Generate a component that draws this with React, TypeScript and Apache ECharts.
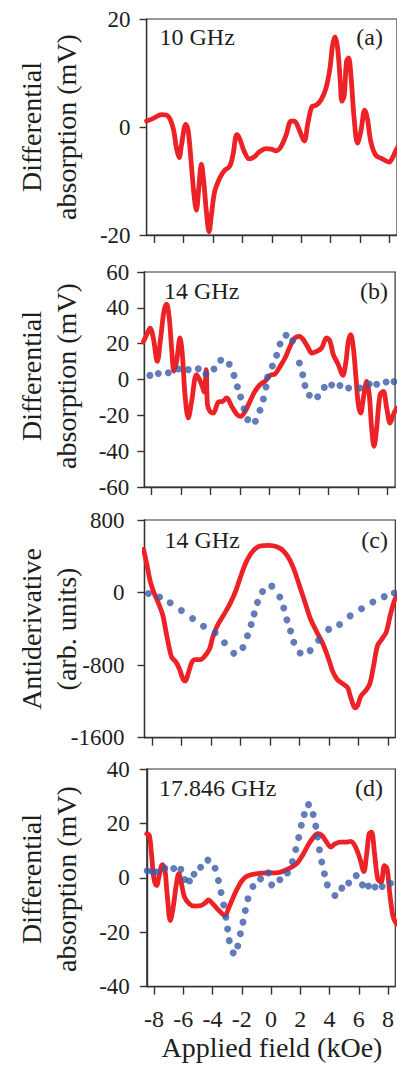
import React, { useEffect, useRef } from "react";
import * as echarts from "echarts";

const FIELD_TICKS = [-8, -6, -4, -2, 0, 2, 4, 6, 8];

// (a) 10 GHz, differential absorption (mV) vs applied field (kOe)
const redA: number[][] = [
  [-8.5, 1.1], [-8.05, 1.6], [-7.48, 2.3], [-7.03, 2.0], [-6.69, -0.3], [-6.47, -4.0], [-6.29, -5.7],
  [-6.13, -3.3], [-5.84, 0.5], [-5.68, -0.6], [-5.46, -7.0], [-5.28, -12.6], [-5.12, -15.4], [-4.96, -11.4],
  [-4.78, -6.9], [-4.62, -10.1], [-4.44, -15.7], [-4.26, -19.4], [-4.1, -16.3], [-3.88, -12.0], [-3.54, -9.5],
  [-3.2, -8.0], [-2.86, -7.3], [-2.64, -5.2], [-2.37, -1.4], [-2.19, -2.1], [-1.86, -4.6], [-1.52, -5.9],
  [-1.18, -5.5], [-0.84, -4.6], [-0.39, -4.0], [-0.04, -4.1], [0.3, -4.4], [0.63, -3.6], [0.97, -1.5],
  [1.31, 1.1], [1.53, 1.1], [1.83, -0.3], [2.21, -2.6], [2.43, 0.4], [2.73, 3.8], [3.0, 4.0], [3.34, 5.0],
  [3.68, 7.2], [3.95, 10.9], [4.13, 15.2], [4.29, 16.7], [4.47, 14.6], [4.65, 8.4], [4.76, 4.8], [4.92, 5.9],
  [5.07, 12.1], [5.21, 12.8], [5.37, 9.6], [5.59, 1.6], [5.82, -3.0], [6.04, -0.9], [6.31, 3.1], [6.49, 1.6],
  [6.72, -2.7], [7.05, -5.2], [7.5, -5.9], [7.96, -6.5], [8.18, -5.8], [8.43, -4.3], [8.6, -3.5],
];

// (b) 14 GHz, differential absorption (mV)
const redB: number[][] = [
  [-8.57, 20.9], [-8.34, 25], [-8.11, 28.7], [-7.89, 23.2], [-7.62, 10.1], [-7.39, 23.2], [-7.17, 38],
  [-6.99, 42.1], [-6.81, 34.3], [-6.65, 17.6], [-6.49, 4.6], [-6.31, 10.1], [-6.08, 23.2], [-5.92, 13.9],
  [-5.74, -8.5], [-5.52, -21.5], [-5.29, -12.2], [-4.95, 2.7], [-4.61, -2.9], [-4.45, -7], [-4.3, 5.5],
  [-4.22, -14], [-4.05, -17.8], [-3.82, -18.7], [-3.48, -12.6], [-3.19, -12.2], [-2.92, -10.3], [-2.58, -14.9],
  [-2.24, -19.3], [-1.97, -20.6], [-1.67, -17.8], [-1.34, -12.2], [-1.0, -6.6], [-0.66, -2.9], [-0.32, -1.0],
  [0.02, 2.3], [0.36, 3.1], [0.7, 7.3], [1.04, 12.0], [1.38, 18.5], [1.65, 22.8], [2.01, 24.1], [2.28, 22.2],
  [2.62, 17.6], [2.85, 14.8], [3.18, 15.7], [3.52, 17.6], [3.86, 23.2], [4.09, 21.3], [4.31, 13.9], [4.65, 8.3],
  [4.95, 2.3], [5.17, 10.1], [5.33, 21.3], [5.49, 25], [5.67, 17.6], [5.85, 0.8], [6.01, -14.1], [6.17, -18.7],
  [6.35, -10.3], [6.58, -1.0], [6.75, -8.5], [6.91, -27.1], [7.07, -37.3], [7.25, -27.1], [7.48, -8.5],
  [7.7, -6.6], [7.93, -15.9], [8.16, -24.3], [8.38, -19.6], [8.61, -15.9],
];
const blueB: number[][] = [
  [-8.12, 2.3], [-7.55, 3.3], [-6.87, 3.8], [-6.19, 5.9], [-5.52, 5.5], [-4.84, 6.0], [-4.32, 3.1],
  [-3.78, 5.9], [-3.32, 10.7], [-2.74, 8.5], [-2.42, 2.3], [-2.19, -4.0], [-1.97, -9.8], [-1.74, -16.3],
  [-1.49, -22.4], [-0.97, -23.3], [-0.66, -17.2], [-0.43, -10.9], [-0.25, -4.2], [-0.14, 1.4], [0.18, 7.5],
  [0.47, 13.5], [0.7, 19.8], [1.11, 24.7], [1.56, 21.7], [2.01, 9.2], [2.24, 2.7], [2.39, -3.3], [2.69, -8.8],
  [3.25, -9.6], [3.7, -4.4], [4.2, -3.1], [4.76, -3.3], [5.35, -4.7], [6.12, -4.7], [6.75, -2.5], [7.25, -2.7],
  [7.89, -1.4], [8.43, -1.2],
];

// (c) 14 GHz, antiderivative (arb. units)
const redC: number[][] = [
  [-8.57, 476], [-8.34, 309], [-8.11, 123], [-7.89, 11], [-7.55, -119], [-7.26, -249], [-7.04, -435],
  [-6.81, -621], [-6.65, -714], [-6.35, -770], [-6.13, -844], [-5.9, -949], [-5.74, -975], [-5.52, -882],
  [-5.29, -770], [-5.07, -740], [-4.73, -740], [-4.39, -696], [-4.09, -621], [-3.87, -491], [-3.55, -361],
  [-3.14, -249], [-2.69, -119], [-2.29, 30], [-1.9, 216], [-1.52, 365], [-1.11, 465], [-0.66, 513],
  [-0.09, 521], [0.47, 506], [0.92, 458], [1.33, 365], [1.72, 216], [2.06, 48], [2.4, -119], [2.74, -286],
  [3.18, -435], [3.59, -565], [3.98, -733], [4.27, -874], [4.59, -963], [5.0, -1012], [5.27, -1049],
  [5.49, -1161], [5.79, -1272], [5.94, -1246], [6.17, -1142], [6.46, -1086], [6.76, -1012], [7.03, -807],
  [7.3, -584], [7.6, -510], [7.89, -435], [8.16, -249], [8.43, -93], [8.63, -26],
];
const blueC: number[][] = [
  [-8.23, -11], [-7.48, -48], [-6.76, -112], [-6.0, -197], [-5.24, -286], [-4.5, -372], [-3.71, -443],
  [-3.08, -554], [-2.45, -670], [-1.83, -606], [-1.52, -476], [-1.27, -353], [-1.07, -235], [-0.84, -108],
  [-0.5, 11], [0.13, 71], [0.67, -48], [0.94, -171], [1.15, -301], [1.4, -424], [1.62, -547], [2.05, -666],
  [2.73, -640], [3.3, -525], [3.98, -406], [4.72, -353], [5.44, -257], [6.21, -179], [6.98, -104],
  [7.75, -45], [8.43, -4],
];

// (d) 17.846 GHz, differential absorption (mV)
const redD: number[][] = [
  [-8.51, 16.2], [-8.33, 15.6], [-8.17, 8.2], [-8.01, -0.4], [-7.83, -2.8], [-7.65, 0.8], [-7.43, 4.8],
  [-7.27, 3.3], [-7.12, -5.3], [-6.89, -15.7], [-6.71, -11.4], [-6.49, -2.8], [-6.31, 1.5], [-6.15, -1.6],
  [-5.92, -7.1], [-5.58, -9.6], [-5.24, -10.4], [-4.79, -10.2], [-4.46, -9.0], [-4.28, -8.1], [-4.05, -9.2],
  [-3.67, -11.4], [-3.33, -13.3], [-3.15, -13.9], [-2.88, -10.8], [-2.61, -7.5], [-2.32, -4.1], [-1.98, -1.0],
  [-1.64, 0.6], [-1.2, 1.3], [-0.63, 1.7], [-0.07, 1.8], [0.49, 1.9], [0.94, 2.7], [1.39, 3.9], [1.8, 5.5],
  [2.18, 8.5], [2.52, 11.9], [2.86, 14.6], [3.2, 16.2], [3.47, 15.6], [3.76, 13.4], [4.1, 11.3], [4.37, 12.5],
  [4.78, 13.1], [5.11, 13.1], [5.45, 13.4], [5.78, 11.3], [6.08, 7.0], [6.35, 2.3], [6.53, 8.2], [6.71, 16.2],
  [6.87, 16.8], [7.07, 9.4], [7.3, -0.4], [7.53, -1.6], [7.75, 4.5], [7.93, 3.5], [8.11, -5.3], [8.29, -12.7],
  [8.4, -15.1], [8.6, -17],
];
const blueD: number[][] = [
  [-8.47, 2.6], [-8.13, 2.3], [-7.83, 2.1], [-7.27, 3.5], [-6.66, 3.4], [-6.17, 3.1], [-5.9, -0.6],
  [-5.58, -1.2], [-5.27, 1.3], [-4.82, 3.9], [-4.32, 6.5], [-3.83, 3.5], [-3.6, -1.0], [-3.42, -5.4],
  [-3.24, -10.0], [-3.09, -14.5], [-2.97, -18.8], [-2.86, -23.1], [-2.59, -27.6], [-2.28, -25.1],
  [-2.1, -20.6], [-1.92, -16.3], [-1.76, -12.0], [-1.58, -7.7], [-1.24, -3.2], [-0.72, -0.4], [-0.18, 1.8],
  [0.04, -2.6], [0.6, -0.7], [1.12, 1.8], [1.46, 6.0], [1.69, 10.4], [1.89, 14.8], [2.07, 19.3], [2.27, 23.3],
  [2.56, 26.9], [2.88, 23.3], [3.06, 19.0], [3.19, 15.0], [3.31, 10.3], [3.47, 5.8], [3.65, 1.5], [3.85, -2.6],
  [4.37, -6.5], [4.84, -3.8], [5.31, -1.9], [5.83, 0.8], [6.25, -2.6], [6.66, -3.0], [7.11, -3.4],
  [7.6, -3.2], [8.17, -2.0],
];

const FONT = "'Liberation Serif', 'Times New Roman', Times, serif";
const RED = "#ec2227";
const BLUE = "#3b5ba8";
const INK = "#1e1e1e";
const AXIS = "#333333";

const GRIDS = [
  { left: 146.6, top: 19, width: 251.4, height: 216 },
  { left: 144.3, top: 272, width: 250.8, height: 215 },
  { left: 144.5, top: 520, width: 250.8, height: 217.7 },
  { left: 146.8, top: 769, width: 251.8, height: 217.6 },
];
const Y_RANGES = [
  { min: -20, max: 20, interval: 20, margin: 16 },
  { min: -60, max: 60, interval: 20, margin: 15 },
  { min: -1600, max: 800, interval: 800, margin: 20 },
  { min: -40, max: 40, interval: 20, margin: 17 },
];
const PANEL_TAGS = [
  { freq: "10 GHz", tag: "(a)", fx: 159.5, tx: 383, y: 37 },
  { freq: "14 GHz", tag: "(b)", fx: 164, tx: 388, y: 291 },
  { freq: "14 GHz", tag: "(c)", fx: 164.5, tx: 388, y: 540 },
  { freq: "17.846 GHz", tag: "(d)", fx: 159, tx: 383, y: 788 },
];
const Y_TITLES = [
  { l1: "Differential", l2: "absorption (mV)", y: 127 },
  { l1: "Differential", l2: "absorption (mV)", y: 376 },
  { l1: "Antiderivative", l2: "(arb. units)", y: 629 },
  { l1: "Differential", l2: "absorption (mV)", y: 879 },
];

function buildOption() {
  const grid = GRIDS.map((g) => ({
    ...g,
    show: true,
    borderColor: AXIS,
    borderWidth: 1.2,
    backgroundColor: "transparent",
  }));
  const xAxis = GRIDS.map((_, i) => ({
    type: "value",
    gridIndex: i,
    min: -8.5,
    max: 8.5,
    axisLine: { show: true, onZero: false, lineStyle: { color: AXIS, width: 1.4 } },
    axisTick: {
      show: true,
      inside: false,
      length: 8,
      customValues: FIELD_TICKS,
      lineStyle: { color: AXIS, width: 1.4 },
    },
    axisLabel: {
      show: i === 3,
      customValues: FIELD_TICKS,
      margin: 20,
      fontFamily: FONT,
      fontSize: 24,
      color: INK,
      formatter: (v: number) => String(v),
    },
    splitLine: { show: false },
  }));
  const yAxis = Y_RANGES.map((r, i) => ({
    type: "value",
    gridIndex: i,
    min: r.min,
    max: r.max,
    interval: r.interval,
    axisLine: { show: true, onZero: false, lineStyle: { color: AXIS, width: 1.4 } },
    axisTick: { show: true, inside: false, length: 7, lineStyle: { color: AXIS, width: 1.4 } },
    axisLabel: {
      margin: r.margin,
      fontFamily: FONT,
      fontSize: 23,
      color: INK,
      formatter: (v: number) => String(v),
    },
    splitLine: { show: false },
  }));
  const lineSeries = (data: number[][], i: number) => ({
    type: "line",
    xAxisIndex: i,
    yAxisIndex: i,
    data,
    showSymbol: false,
    smooth: 0.35,
    lineStyle: { color: RED, width: 4.8, cap: "round", join: "round" },
    itemStyle: { color: RED },
    z: 2,
    clip: true,
  });
  const dotSeries = (data: number[][], i: number) => ({
    type: "scatter",
    xAxisIndex: i,
    yAxisIndex: i,
    data,
    symbol: "circle",
    symbolSize: 7,
    itemStyle: { color: BLUE },
    z: 3,
    clip: true,
  });
  const series = [
    lineSeries(redA, 0),
    lineSeries(redB, 1),
    dotSeries(blueB, 1),
    lineSeries(redC, 2),
    dotSeries(blueC, 2),
    lineSeries(redD, 3),
    dotSeries(blueD, 3),
  ];
  const txt = (text: string, x: number, y: number, align: string, size: number, rotate = false) => ({
    type: "text",
    x,
    y,
    rotation: rotate ? Math.PI / 2 : 0,
    style: {
      text,
      fill: INK,
      font: `${size}px ${FONT}`,
      align,
      verticalAlign: "middle",
    },
    z: 10,
  });
  const graphic: any[] = [];
  PANEL_TAGS.forEach((p) => {
    graphic.push(txt(p.freq, p.fx, p.y, "left", 24));
    graphic.push(txt(p.tag, p.tx, p.y, "right", 24));
  });
  Y_TITLES.forEach((t) => {
    graphic.push(txt(t.l1, 31.5, t.y, "center", 28, true));
    graphic.push(txt(t.l2, 66, t.y, "center", 28, true));
  });
  graphic.push(txt("Applied field (kOe)", 272, 1047, "center", 28));
  return {
    animation: false,
    backgroundColor: "#ffffff",
    textStyle: { fontFamily: FONT },
    grid,
    xAxis,
    yAxis,
    series,
    graphic,
  };
}

export default function App() {
  const ref = useRef<HTMLDivElement>(null);
  useEffect(() => {
    if (!ref.current) return;
    const chart = echarts.init(ref.current, null, { renderer: "svg" });
    chart.setOption(buildOption() as any);
    return () => chart.dispose();
  }, []);
  return (
    <div
      ref={ref}
      style={{ position: "absolute", left: 0, top: 0, width: 397, height: 1069, background: "#fff", overflow: "hidden" }}
    />
  );
}
